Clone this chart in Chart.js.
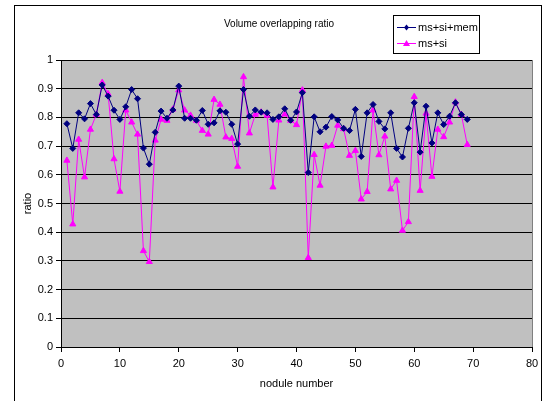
<!DOCTYPE html>
<html>
<head>
<meta charset="utf-8">
<script src="https://cdn.jsdelivr.net/npm/chart.js@4.4.1/dist/chart.umd.min.js"></script>
<style>
html,body{margin:0;padding:0;background:#fff;}
canvas{display:block;}
</style>
</head>
<body>
<canvas id="c" width="548" height="401"></canvas>
<script>
const nodules = [1,2,3,4,5,6,7,8,9,10,11,12,13,14,15,16,17,18,19,20,21,22,23,24,25,26,27,28,29,30,31,32,33,34,35,36,37,38,39,40,41,42,43,44,45,46,47,48,49,50,51,52,53,54,55,56,57,58,59,60,61,62,63,64,65,66,67,68,69];
const msSiMem = [0.778,0.692,0.816,0.795,0.848,0.81,0.913,0.874,0.825,0.793,0.837,0.897,0.865,0.693,0.637,0.748,0.822,0.797,0.826,0.909,0.797,0.797,0.79,0.824,0.776,0.781,0.823,0.818,0.776,0.707,0.897,0.804,0.826,0.818,0.816,0.793,0.802,0.83,0.79,0.819,0.886,0.608,0.802,0.75,0.766,0.803,0.791,0.762,0.754,0.828,0.664,0.816,0.845,0.786,0.76,0.816,0.692,0.662,0.762,0.851,0.679,0.839,0.711,0.816,0.775,0.804,0.851,0.81,0.793];
const msSi = [0.65,0.428,0.723,0.592,0.758,0.81,0.921,0.882,0.655,0.542,0.825,0.783,0.741,0.335,0.297,0.72,0.793,0.789,0.828,0.895,0.825,0.807,0.789,0.754,0.741,0.862,0.845,0.731,0.726,0.629,0.941,0.745,0.81,0.818,0.807,0.557,0.79,0.811,0.789,0.774,0.895,0.311,0.67,0.563,0.699,0.702,0.772,0.76,0.667,0.684,0.515,0.541,0.825,0.669,0.734,0.55,0.58,0.406,0.436,0.872,0.545,0.814,0.594,0.758,0.732,0.783,0.853,0.81,0.705];
const seriesNames = ['ms+si+mem','ms+si'];
const chartTitle = 'Volume overlapping ratio';
const xTitle = 'nodule number';
const yTitle = 'ratio';
const xTicks = [0,10,20,30,40,50,60,70,80];
const yTicks = [0,0.1,0.2,0.3,0.4,0.5,0.6,0.7,0.8,0.9,1];

const FONT = 'Liberation Sans, Arial, sans-serif';

const decor = {
  id:'decor',
  beforeDraw(chart){
    const {ctx, chartArea:a} = chart;
    ctx.save();
    ctx.fillStyle = '#fff';
    ctx.fillRect(0,0,chart.width,chart.height);
    ctx.fillStyle = '#C0C0C0';
    ctx.fillRect(a.left, a.top, a.right-a.left, a.bottom-a.top);
    ctx.restore();
  },
  afterDraw(chart){
    const {ctx, chartArea:a} = chart;
    ctx.save();
    // plot area border (right)
    ctx.strokeStyle = '#808080';
    ctx.lineWidth = 1;
    ctx.beginPath();
    ctx.moveTo(Math.round(a.right)+0.5, a.top);
    ctx.lineTo(Math.round(a.right)+0.5, a.bottom);
    ctx.stroke();
    // outer frame
    ctx.strokeStyle = '#000';
    ctx.strokeRect(14.5, 5.5, 527, 400);
    // title
    ctx.fillStyle = '#000';
    ctx.font = '10px ' + FONT;
    ctx.textAlign = 'center';
    ctx.textBaseline = 'middle';
    ctx.fillText(chartTitle, 279, 24);
    // legend
    ctx.fillStyle = '#fff';
    ctx.fillRect(393.5, 15.5, 86, 38);
    ctx.strokeStyle = '#000';
    ctx.strokeRect(393.5, 15.5, 86, 38);
    const ys = [27, 43];
    chart.data.datasets.forEach((ds, i) => {
      const y = ys[i];
      ctx.strokeStyle = ds.borderColor;
      ctx.lineWidth = 1;
      ctx.beginPath();
      ctx.moveTo(397, y+0.5); ctx.lineTo(416, y+0.5);
      ctx.stroke();
      ctx.fillStyle = ds.pointBackgroundColor;
      ctx.beginPath();
      if (ds.pointStyle === 'rectRot') {
        ctx.moveTo(406.5, y-2.5); ctx.lineTo(409, y+0.5); ctx.lineTo(406.5, y+3.5); ctx.lineTo(404, y+0.5);
      } else {
        ctx.moveTo(406.5, y-3); ctx.lineTo(410, y+3); ctx.lineTo(403, y+3);
      }
      ctx.closePath();
      ctx.fill();
      ctx.fillStyle = '#000';
      ctx.font = '11px ' + FONT;
      ctx.textAlign = 'left';
      ctx.fillText(ds.label, 418, y+1);
    });
    ctx.restore();
  }
};

new Chart(document.getElementById('c'), {
  type: 'line',
  data: {
    datasets: [
      {
        label: seriesNames[0],
        data: nodules.map((n,i)=>({x:n, y:msSiMem[i]})),
        borderColor: '#000080',
        backgroundColor: '#000080',
        pointBackgroundColor: '#000080',
        pointBorderColor: '#000080',
        pointStyle: 'rectRot',
        pointRadius: 3,
        pointBorderWidth: 1,
        borderWidth: 1,
        tension: 0
      },
      {
        label: seriesNames[1],
        data: nodules.map((n,i)=>({x:n, y:msSi[i]})),
        borderColor: '#FF00FF',
        backgroundColor: '#FF00FF',
        pointBackgroundColor: '#FF00FF',
        pointBorderColor: '#FF00FF',
        pointStyle: 'triangle',
        pointRadius: 3.5,
        pointBorderWidth: 1,
        borderWidth: 1,
        tension: 0
      }
    ]
  },
  options: {
    responsive: false,
    devicePixelRatio: 1,
    animation: false,
    layout: { padding: { left: 15, right: 16, top: 60, bottom: 0 } },
    plugins: { legend: { display: false }, tooltip: { enabled: false }, title: { display: false } },
    scales: {
      x: {
        type: 'linear',
        min: 0, max: 80,
        afterBuildTicks(s){ s.ticks = xTicks.map(v=>({value:v})); },
        afterFit(s){ s.height = 54; },
        grid: { drawOnChartArea: false, color: '#000', tickLength: 5, lineWidth: 1 },
        border: { color: '#000', width: 1 },
        ticks: { color: '#000', font: { family: FONT, size: 11 }, padding: 5, maxRotation: 0 },
        title: { display: true, text: xTitle, color: '#000', font: { family: FONT, size: 11 }, padding: { top: 0, bottom: 10 } }
      },
      y: {
        type: 'linear',
        min: 0, max: 1,
        afterBuildTicks(s){ s.ticks = yTicks.map(v=>({value:v})); },
        afterFit(s){ s.width = 46; },
        grid: { color: '#000', tickLength: 5, lineWidth: 1 },
        border: { color: '#000', width: 1 },
        ticks: { color: '#000', font: { family: FONT, size: 11 }, padding: 3, callback: v => String(Math.round(v*10)/10) },
        title: { display: true, text: yTitle, color: '#000', font: { family: FONT, size: 11 }, padding: { top: 6, bottom: 0 } }
      }
    }
  },
  plugins: [decor]
});
</script>
</body>
</html>
